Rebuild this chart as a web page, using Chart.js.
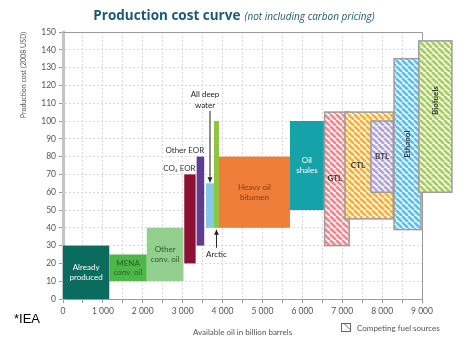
<!DOCTYPE html>
<html>
<head>
<meta charset="utf-8">
<script src="https://cdn.jsdelivr.net/npm/chart.js@4.4.1/dist/chart.umd.min.js"></script>
<style>
  html, body { margin: 0; padding: 0; background: #fff; }
  #wrap { position: relative; width: 468px; height: 338px; overflow: hidden; }
  #chart { position: absolute; left: 0; top: 0; }
  #title {
    position: absolute; top: 3px; left: 0; width: 468px; text-align: center;
    color: #1d5a72; font-family: "Open Sans", sans-serif; white-space: nowrap;
  }
  #title b { font-size: 13.5px; font-weight: 700; }
  #title i { font-size: 10px; font-weight: 400; }
  #src { position: absolute; left: 14px; top: 311px; font: 13px "Liberation Sans", Arial, sans-serif; color: #000; }
  #legend {
    position: absolute; left: 341px; top: 323px; font: 8px Lato, sans-serif; color: #555;
    display: flex; align-items: center; white-space: nowrap;
  }
  #legend canvas { margin-right: 5px; }
</style>
</head>
<body>
<div id="wrap">
  <canvas id="chart" width="468" height="338"></canvas>
  <div id="title"><b>Production cost curve</b> <i>(not including carbon pricing)</i></div>
  <div id="src">*IEA</div>
  <div id="legend"><canvas id="legend-icon" width="11" height="10"></canvas>Competing fuel sources</div>
</div>
<script>
// ── Data: oil resources, cumulative volume (billion barrels) vs cost (2008 USD) ──
const boxNames  = ['Already produced', 'MENA conv. oil', 'Other conv. oil', 'CO₂ EOR', 'Other EOR',
                   'All deep water', 'Arctic', 'Heavy oil bitumen', 'Oil shales',
                   'GTL', 'CTL', 'BTL', 'Ethanol', 'Biofuels'];
const boxStart  = [0,    1160, 2100, 3040, 3350, 3585, 3785, 3910, 5690, 6560, 7070, 7720, 8300, 8920];
const boxEnd    = [1160, 2100, 3020, 3325, 3540, 3785, 3910, 5690, 6540, 7175, 8280, 8280, 8975, 9750];
const costLow   = [0,    10,   10,   20,   30,   40,   40,   40,   50,   30,   45,   60,   39,   60];
const costHigh  = [30,   25,   40,   70,   80,   65,   100,  80,   100,  105,  105,  100,  135,  145];
const competing = [false, false, false, false, false, false, false, false, false, true, true, true, true, true];

const X_MAX = 9000;
const Y_MAX = 150;

// ── Styles ──────────────────────────────────────────────────
const boxColors = ['#0c6b5f', '#4db848', '#93cf8e', '#8c1034', '#5e3c8e', '#86c9e6', '#8dc63f',
                   '#ef7e3a', '#15a3a9', '#f08a90', '#fbb034', '#b3a6d5', '#5ac2ea', '#a7cf5b'];
const FONT = 'Lato, "Open Sans", sans-serif';

function hatch(color) {
  const s = 6;
  const c = document.createElement('canvas');
  c.width = s; c.height = s;
  const g = c.getContext('2d');
  g.strokeStyle = color;
  g.lineWidth = 2.7;
  [-s, 0, s].forEach(o => {
    g.beginPath();
    g.moveTo(o, 0);
    g.lineTo(o + s, s);
    g.stroke();
  });
  return g.createPattern(c, 'repeat');
}

// ── Labels drawn on/near each box ───────────────────────────
function drawLabels(ctx, px) {
  const cx = i => (px[i].x0 + px[i].x1) / 2;
  const cy = i => (px[i].y0 + px[i].y1) / 2;

  function text(lines, tx, ty, color, opts = {}) {
    ctx.save();
    ctx.fillStyle = color;
    ctx.font = `${opts.weight || 400} ${opts.size || 8}px ${FONT}`;
    ctx.textAlign = opts.align || 'center';
    ctx.textBaseline = 'middle';
    ctx.translate(tx, ty);
    if (opts.rotate) ctx.rotate(opts.rotate);
    const lh = opts.lh || 9.5;
    lines.forEach((l, k) => ctx.fillText(l, 0, (k - (lines.length - 1) / 2) * lh));
    ctx.restore();
  }

  function arrow(ax, ya, yb) {
    ctx.save();
    ctx.strokeStyle = '#222';
    ctx.fillStyle = '#222';
    ctx.lineWidth = 1;
    ctx.beginPath();
    ctx.moveTo(ax, ya);
    ctx.lineTo(ax, yb);
    ctx.stroke();
    const d = yb > ya ? 1 : -1;
    ctx.beginPath();
    ctx.moveTo(ax, yb);
    ctx.lineTo(ax - 2.5, yb - d * 5);
    ctx.lineTo(ax + 2.5, yb - d * 5);
    ctx.closePath();
    ctx.fill();
    ctx.restore();
  }

  text(['Already', 'produced'], cx(0), cy(0), '#ffffff');
  text(['MENA', 'conv. oil'], cx(1), cy(1), '#2d5a2a');
  text(['Other', 'conv. oil'], cx(2), cy(2), '#2d5a2a');
  text(['CO₂ EOR'], px[3].x1, px[3].y0 - 6, '#333', { align: 'right' });
  text(['Other EOR'], px[4].x1, px[4].y0 - 6, '#333', { align: 'right' });

  const dwX = cx(5);
  text(['All deep', 'water'], dwX - 5, px[6].y0 - 21, '#222', { lh: 11 });
  arrow(dwX, px[6].y0 - 10, px[5].y0 - 1);

  const arX = cx(6);
  text(['Arctic'], arX, px[6].y1 + 27, '#222');
  arrow(arX, px[6].y1 + 20, px[6].y1 + 2);

  text(['Heavy oil', 'bitumen'], cx(7), cy(7), '#8a3a10');
  text(['Oil', 'shales'], cx(8), cy(8), '#ffffff');
  text(['GTL'], (px[9].x0 + px[10].x0) / 2, cy(9), '#3a3a3a', { weight: 700 });
  text(['CTL'], (px[10].x0 + px[11].x0) / 2, px[11].y0 + 44, '#3a3a3a', { weight: 700 });
  text(['BTL'], cx(11), cy(11), '#3a3a3a', { weight: 700 });
  text(['Ethanol'], cx(12), cy(12), '#3a3a3a', { rotate: -Math.PI / 2, weight: 700 });
  text(['Biofuels'], cx(13), cy(13) - 16, '#3a3a3a', { rotate: -Math.PI / 2, weight: 700 });
}

// ── Plugin: frame, boxes, labels ────────────────────────────
const costCurvePlugin = {
  id: 'costCurve',
  afterDatasetsDraw(chart) {
    const { ctx, scales: { x, y } } = chart;

    // top and right frame
    ctx.save();
    ctx.strokeStyle = '#9a9a9a';
    ctx.lineWidth = 1;
    ctx.beginPath();
    ctx.moveTo(x.getPixelForValue(0), y.getPixelForValue(Y_MAX) + 0.5);
    ctx.lineTo(x.getPixelForValue(X_MAX) + 0.5, y.getPixelForValue(Y_MAX) + 0.5);
    ctx.lineTo(x.getPixelForValue(X_MAX) + 0.5, y.getPixelForValue(0));
    ctx.stroke();
    ctx.restore();

    const px = boxNames.map((n, i) => ({
      x0: x.getPixelForValue(boxStart[i]),
      x1: x.getPixelForValue(boxEnd[i]),
      y0: y.getPixelForValue(costHigh[i]),
      y1: y.getPixelForValue(costLow[i]),
    }));

    px.forEach((p, i) => {
      const w = p.x1 - p.x0, h = p.y1 - p.y0;
      ctx.save();
      if (competing[i]) {
        ctx.fillStyle = '#ffffff';
        ctx.fillRect(p.x0, p.y0, w, h);
        ctx.fillStyle = hatch(boxColors[i]);
        ctx.fillRect(p.x0, p.y0, w, h);
        ctx.strokeStyle = '#9c9c9c';
        ctx.lineWidth = 1.5;
        ctx.strokeRect(p.x0, p.y0, w, h);
      } else {
        ctx.fillStyle = boxColors[i];
        ctx.fillRect(p.x0, p.y0, w, h);
      }
      ctx.restore();
    });

    drawLabels(ctx, px);
  }
};

// ── Chart ───────────────────────────────────────────────────
const fmtThousands = v => v === 0 ? '0' : `${v / 1000} 000`;

new Chart(document.getElementById('chart'), {
  type: 'scatter',
  data: { datasets: [{ data: [], pointRadius: 0 }] },
  plugins: [costCurvePlugin],
  options: {
    responsive: false,
    animation: false,
    layout: { padding: { top: 32, right: 46, left: 0, bottom: 0 } },
    plugins: { legend: { display: false }, tooltip: { enabled: false } },
    scales: {
      x: {
        type: 'linear',
        min: 0,
        max: X_MAX,
        afterFit: s => { s.height = 39; },
        ticks: {
          stepSize: 500,
          autoSkip: false,
          maxRotation: 0,
          padding: 3,
          color: '#555',
          font: { family: FONT, size: 8.5 },
          callback: v => v % 1000 === 0 ? fmtThousands(v) : '',
        },
        grid: { color: '#dadada', tickColor: '#999', tickLength: 4, tickBorderDash: [] },
        border: { color: '#9a9a9a', width: 1, dash: [2, 2] },
        title: {
          display: true,
          text: 'Available oil in billion barrels',
          color: '#555',
          font: { family: FONT, size: 8 },
          padding: { top: 2, bottom: 1 },
        },
      },
      y: {
        min: 0,
        max: Y_MAX,
        afterFit: s => { s.width = 63; },
        ticks: {
          stepSize: 10,
          padding: 3,
          color: '#555',
          font: { family: FONT, size: 8.5 },
        },
        grid: { color: '#dadada', tickColor: '#999', tickLength: 4, tickBorderDash: [] },
        border: { color: '#c4c4c4', width: 3, dash: [2, 2] },
        title: {
          display: true,
          text: 'Production cost (2008 USD)',
          align: 'end',
          color: '#555',
          font: { family: FONT, size: 7 },
          padding: { top: 20, bottom: 0 },
        },
      },
    },
  },
});

// legend icon: small hatched square
(function () {
  const g = document.getElementById('legend-icon').getContext('2d');
  g.strokeStyle = '#666';
  g.lineWidth = 1;
  g.strokeRect(0.5, 0.5, 9, 8);
  g.beginPath();
  g.moveTo(3, 0.5);
  g.lineTo(9.5, 7);
  g.stroke();
})();
</script>
</body>
</html>
